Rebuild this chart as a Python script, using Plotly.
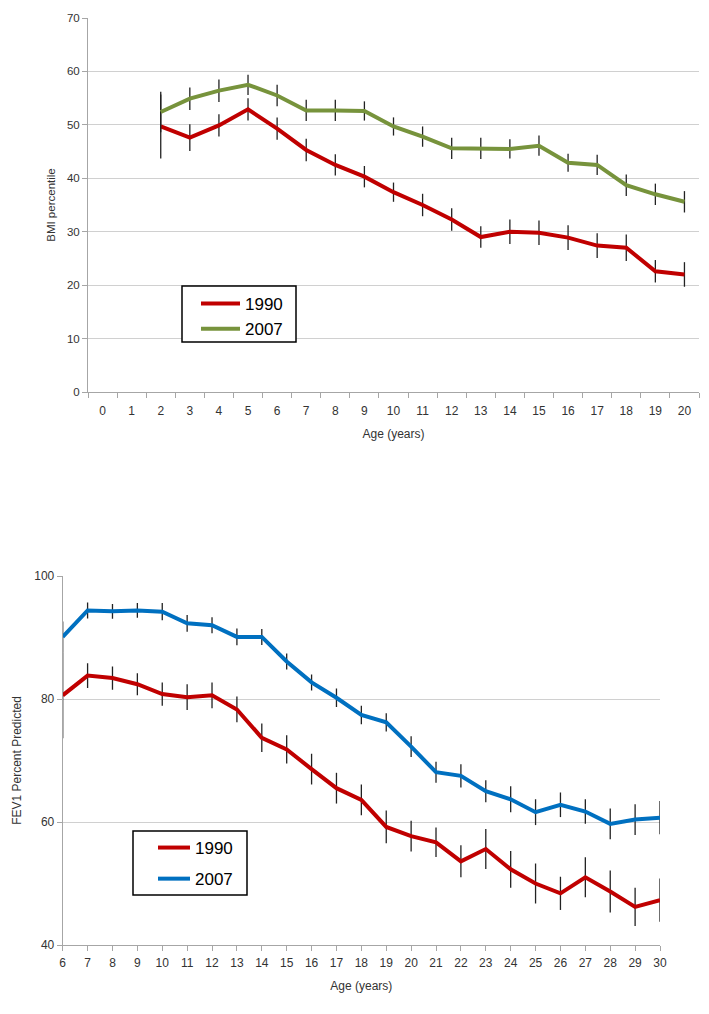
import plotly.graph_objects as go

# ---- Top chart: BMI percentile ----
bmi_ages = [str(a) for a in range(2, 21)]
bmi_cats = [str(a) for a in range(0, 21)]
bmi_1990 = [49.7, 47.6, 49.9, 52.9, 49.3, 45.3, 42.5, 40.3, 37.4, 35.0, 32.3, 29.0, 30.0, 29.8, 28.9, 27.4, 27.0, 22.6, 22.0]
bmi_1990_err = [6.0, 2.5, 2.1, 2.1, 2.1, 2.1, 2.0, 2.0, 1.8, 2.1, 2.1, 2.0, 2.3, 2.3, 2.3, 2.3, 2.5, 2.1, 2.3]
bmi_2007 = [52.4, 54.9, 56.4, 57.5, 55.5, 52.7, 52.7, 52.6, 49.7, 47.8, 45.6, 45.6, 45.5, 46.1, 42.9, 42.5, 38.7, 37.0, 35.6]
bmi_2007_err = [3.8, 2.1, 2.1, 1.9, 2.0, 2.0, 2.0, 1.8, 1.7, 1.9, 2.0, 2.0, 1.8, 1.9, 1.7, 1.9, 2.0, 2.0, 2.0]

# ---- Bottom chart: FEV1 percent predicted ----
fev_ages = list(range(6, 31))
fev_1990 = [80.6, 83.8, 83.4, 82.4, 80.8, 80.3, 80.6, 78.3, 73.7, 71.8, 68.6, 65.5, 63.6, 59.2, 57.7, 56.7, 53.6, 55.6, 52.3, 50.0, 48.4, 51.0, 48.7, 46.2, 47.3]
fev_1990_err = [7.0, 2.0, 1.9, 1.8, 1.9, 2.1, 2.1, 2.1, 2.3, 2.3, 2.5, 2.5, 2.5, 2.65, 2.5, 2.4, 2.6, 3.25, 3.0, 3.25, 2.7, 3.25, 3.4, 3.1, 3.5]
fev_2007 = [90.1, 94.4, 94.25, 94.4, 94.2, 92.3, 92.0, 90.1, 90.1, 86.1, 82.7, 80.2, 77.4, 76.2, 72.25, 68.1, 67.5, 65.0, 63.7, 61.6, 62.8, 61.7, 59.7, 60.4, 60.7]
fev_2007_err = [2.5, 1.3, 1.2, 1.2, 1.4, 1.35, 1.3, 1.35, 1.3, 1.3, 1.3, 1.5, 1.5, 1.5, 1.7, 1.7, 1.9, 1.8, 2.1, 2.1, 2.0, 2.0, 2.5, 2.5, 2.7]

RED = "#C00000"
GREEN = "#77933C"
BLUE = "#0070C0"
FONT = "Liberation Sans, Arial, sans-serif"
TICKC = "#333333"
GRID = "#D0D0D0"
AXC = "#A6A6A6"

W, H = 709, 1014
OFF = 8  # page body margin

def px(x):
    return (x - OFF) / W

def py(y):
    return 1 - (y - OFF) / H

def eb(err):
    return dict(type="data", array=err, visible=True, color="#222222", thickness=1.3, width=0)

fig = go.Figure()
fig.add_trace(go.Scatter(x=bmi_ages, y=bmi_1990, mode="lines", name="1990",
                         line=dict(color=RED, width=4), error_y=eb(bmi_1990_err),
                         xaxis="x", yaxis="y", legend="legend", legendgroup="a", cliponaxis=False))
fig.add_trace(go.Scatter(x=bmi_ages, y=bmi_2007, mode="lines", name="2007",
                         line=dict(color=GREEN, width=4), error_y=eb(bmi_2007_err),
                         xaxis="x", yaxis="y", legend="legend", legendgroup="b", cliponaxis=False))
fig.add_trace(go.Scatter(x=fev_ages, y=fev_1990, mode="lines", name="1990",
                         line=dict(color=RED, width=4), error_y=eb(fev_1990_err),
                         xaxis="x2", yaxis="y2", legend="legend2", legendgroup="c", cliponaxis=False))
fig.add_trace(go.Scatter(x=fev_ages, y=fev_2007, mode="lines", name="2007",
                         line=dict(color=BLUE, width=4), error_y=eb(fev_2007_err),
                         xaxis="x2", yaxis="y2", legend="legend2", legendgroup="d", cliponaxis=False))

# legend frames
for (x0, y0, x1, y1) in [(182, 286, 296, 342), (133, 831, 247, 895)]:
    fig.add_shape(type="rect", xref="paper", yref="paper",
                  x0=px(x0), x1=px(x1), y0=py(y1), y1=py(y0),
                  line=dict(color="black", width=1.5), fillcolor="white", layer="above")

fig.update_layout(
    width=W, height=H,
    margin=dict(l=0, r=0, t=0, b=0, autoexpand=False),
    paper_bgcolor="white", plot_bgcolor="white",
    font=dict(family=FONT, color=TICKC, size=11),
    xaxis=dict(domain=[px(88), px(699)], anchor="y", type="category",
               categoryorder="array", categoryarray=bmi_cats, range=[-0.5, 20.5],
               tickson="boundaries", ticks="outside", ticklen=5, tickcolor=AXC,
               ticklabelstandoff=8,
               showgrid=False, showline=True, linecolor=AXC, linewidth=1, automargin=False,
               tickfont=dict(size=12, color=TICKC),
               title=dict(text="Age (years)", font=dict(size=12, color=TICKC), standoff=12)),
    yaxis=dict(domain=[py(392), py(18)], anchor="x", range=[0, 70], automargin=False,
               tickvals=[0, 10, 20, 30, 40, 50, 60, 70], ticks="outside", ticklen=5,
               tickcolor=AXC, showgrid=True, gridcolor=GRID, gridwidth=1,
               showline=True, linecolor=AXC, zeroline=False,
               tickfont=dict(size=11.5, color=TICKC),
               title=dict(text="BMI percentile", font=dict(size=11.5, color=TICKC), standoff=8)),
    xaxis2=dict(domain=[px(62.7), px(660)], anchor="y2", range=[6, 30], automargin=False,
                tickvals=fev_ages, ticks="outside", ticklen=5, tickcolor=AXC,
                ticklabelstandoff=2,
                showgrid=False, showline=True, linecolor=AXC, zeroline=False,
                tickfont=dict(size=12, color=TICKC),
                title=dict(text="Age (years)", font=dict(size=12, color=TICKC), standoff=12)),
    yaxis2=dict(domain=[py(945), py(576)], anchor="x2", range=[40, 100], automargin=False,
                tickvals=[40, 60, 80, 100], ticks="outside", ticklen=5, tickcolor=AXC,
                showgrid=True, gridcolor=GRID, gridwidth=1,
                showline=True, linecolor=AXC, zeroline=False,
                tickfont=dict(size=12, color=TICKC),
                title=dict(text="FEV1 Percent Predicted", font=dict(size=12, color=TICKC), standoff=10)),
    legend=dict(x=px(196), y=py(286), xanchor="left", yanchor="top",
                borderwidth=0, bgcolor="rgba(0,0,0,0)", itemwidth=39,
                font=dict(size=17, color="black", family=FONT), tracegroupgap=0),
    legend2=dict(x=px(153), y=py(830), xanchor="left", yanchor="top",
                 borderwidth=0, bgcolor="rgba(0,0,0,0)", itemwidth=32,
                 font=dict(size=17, color="black", family=FONT), tracegroupgap=6),
    showlegend=True,
)

fig.write_html("out.html")
